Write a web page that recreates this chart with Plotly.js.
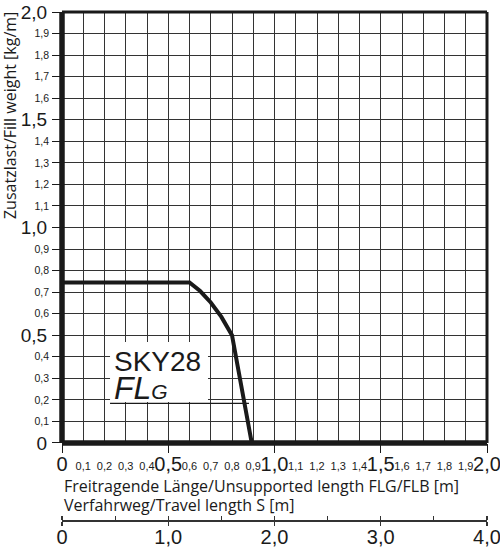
<!DOCTYPE html>
<html>
<head>
<meta charset="utf-8">
<script src="https://cdn.plot.ly/plotly-3.0.1.min.js"></script>
<style>html,body{margin:0;padding:0;background:#fff;}#chart{width:500px;height:551px;}</style>
</head>
<body>
<div id="chart"></div>
<script>
// Data: fill weight [kg/m] vs unsupported length [m]
const lengthM = [0, 0.6, 0.65, 0.7, 0.75, 0.8, 0.893];
const fillWeight = [0.745, 0.745, 0.705, 0.652, 0.585, 0.5, 0];

const majorVals = [0, 0.5, 1.0, 1.5, 2.0];
const majorText = ["0", "0,5", "1,0", "1,5", "2,0"];
const minorVals = [0.1,0.2,0.3,0.4,0.6,0.7,0.8,0.9,1.1,1.2,1.3,1.4,1.6,1.7,1.8,1.9];
const minorText = ["0,1","0,2","0,3","0,4","0,6","0,7","0,8","0,9","1,1","1,2","1,3","1,4","1,6","1,7","1,8","1,9"];
const travelVals = [0, 1, 2, 3, 4];
const travelText = ["0", "1,0", "2,0", "3,0", "4,0"];

const narrow = "Liberation Sans Narrow, Arial Narrow, sans-serif";
const txt = "Open Sans, sans-serif";
const ink = "#1a1a1a";
const gridC = "#333333";

const dom0 = 0.1516;

const trace = {
  x: lengthM, y: fillWeight, type: "scatter", mode: "lines",
  line: {color: ink, width: 4}, hoverinfo: "skip", showlegend: false, cliponaxis: false
};

const layout = {
  width: 500, height: 551,
  margin: {l: 62, r: 13, t: 12, b: 31},
  paper_bgcolor: "#ffffff", plot_bgcolor: "#ffffff",
  showlegend: false,
  xaxis: {
    range: [0, 2], domain: [0, 1], anchor: "y",
    tickvals: majorVals, ticktext: majorText,
    tickfont: {family: narrow, size: 20, color: ink},
    ticks: "outside", ticklen: 9, tickcolor: ink, tickwidth: 1,
    ticklabelstandoff: -6, ticklabeloverflow: "allow",
    showline: false,
    showgrid: true, gridcolor: gridC, gridwidth: 1,
    minor: {dtick: 0.1, showgrid: true, gridcolor: gridC, gridwidth: 1, ticks: ""},
    zeroline: false, fixedrange: true
  },
  xaxis2: {
    range: [0, 2], overlaying: "x", anchor: "y", side: "bottom",
    tickvals: minorVals, ticktext: minorText,
    tickfont: {family: narrow, size: 11, color: ink},
    ticks: "", ticklabelstandoff: 15, ticklabeloverflow: "allow",
    showline: false, showgrid: false, zeroline: false, fixedrange: true
  },
  xaxis3: {
    range: [0, 4], overlaying: "x", anchor: "free", position: 0, side: "bottom",
    tickvals: travelVals, ticktext: travelText,
    tickfont: {family: narrow, size: 20, color: ink},
    ticks: "outside", ticklen: 4, tickcolor: "#333", tickwidth: 1.2,
    ticklabelstandoff: -6, ticklabeloverflow: "allow",
    minor: {dtick: 0.5, ticks: "inside", ticklen: 4, tickcolor: "#333", tickwidth: 1.2, showgrid: false},
    showline: true, linecolor: "#333", linewidth: 1.5,
    showgrid: false, zeroline: false, fixedrange: true
  },
  xaxis4: {
    range: [0, 4], overlaying: "x", anchor: "free", position: 0, side: "bottom",
    tickvals: travelVals, showticklabels: false,
    ticks: "inside", ticklen: 4, tickcolor: "#333", tickwidth: 1.2,
    showline: false, showgrid: false, zeroline: false, fixedrange: true
  },
  yaxis: {
    range: [0, 2], domain: [dom0, 1], anchor: "x",
    tickvals: majorVals, ticktext: majorText,
    tickfont: {family: narrow, size: 19, color: ink},
    ticks: "outside", ticklen: 9, tickcolor: ink, tickwidth: 1,
    ticklabelstandoff: 1, ticklabeloverflow: "allow",
    showline: false,
    showgrid: true, gridcolor: gridC, gridwidth: 1,
    minor: {dtick: 0.1, showgrid: true, gridcolor: gridC, gridwidth: 1, ticks: "outside", ticklen: 9, tickcolor: ink},
    zeroline: false, fixedrange: true
  },
  yaxis2: {
    range: [0, 2], overlaying: "y", anchor: "x", side: "left",
    tickvals: minorVals, ticktext: minorText,
    tickfont: {family: narrow, size: 10.5, color: ink},
    ticks: "", ticklabelstandoff: 12, ticklabeloverflow: "allow",
    showline: false, showgrid: false, zeroline: false, fixedrange: true
  },
  shapes: [
    {type: "rect", xref: "x", yref: "y", x0: 0.226, x1: 0.687, y0: 0.19, y1: 0.469, fillcolor: "#ffffff", line: {width: 0}, layer: "between"},
    {type: "line", xref: "x", yref: "y", x0: 0.226, x1: 0.88, y0: 0.184, y1: 0.184, line: {color: ink, width: 1.2}, layer: "between"},
    {type: "line", xref: "x domain", yref: "y domain", x0: 0, x1: 1, y0: 1, y1: 1, line: {color: ink, width: 3}, layer: "above"},
    {type: "line", xref: "x domain", yref: "y domain", x0: 1, x1: 1, y0: 0, y1: 1, line: {color: ink, width: 3}, layer: "above"},
    {type: "line", xref: "x domain", yref: "y domain", x0: 0, x1: 0, y0: 0, y1: 1, line: {color: ink, width: 5.5}, layer: "above"},
    {type: "line", xref: "x domain", yref: "y domain", x0: 0, x1: 1, y0: 0, y1: 0, line: {color: ink, width: 5.5}, layer: "above"}
  ],
  annotations: [
    {text: "SKY28", xref: "x", yref: "y", x: 0.235, y: 0.38, xanchor: "left", yanchor: "middle",
     showarrow: false, font: {family: "Liberation Sans, Arial, sans-serif", size: 28, color: ink}},
    {text: "<i>FL<span style='font-size:21px'>G</span></i>", xref: "x", yref: "y", x: 0.235, y: 0.255, xanchor: "left", yanchor: "middle",
     showarrow: false, font: {family: "Liberation Sans, Arial, sans-serif", size: 32, color: ink}},
    {text: "Freitragende Länge/Unsupported length FLG/FLB [m]", xref: "paper", yref: "paper",
     x: 0, y: 0.0669, xanchor: "left", yanchor: "middle", showarrow: false,
     font: {family: txt, size: 16, color: ink}},
    {text: "Verfahrweg/Travel length S [m]", xref: "paper", yref: "paper",
     x: 0, y: 0.0305, xanchor: "left", yanchor: "middle", showarrow: false,
     font: {family: txt, size: 16, color: ink}},
    {text: "Zusatzlast/Fill weight [kg/m]", xref: "paper", yref: "paper",
     x: -0.121, y: 1.004, xanchor: "center", yanchor: "top", textangle: -90, showarrow: false,
     font: {family: txt, size: 16, color: ink}}
  ]
};

const data = [trace,
  {x: [0, 2], y: [null, null], xaxis: "x2", yaxis: "y2", mode: "lines", hoverinfo: "skip", showlegend: false},
  {x: [0, 4], y: [null, null], xaxis: "x3", yaxis: "y", mode: "lines", hoverinfo: "skip", showlegend: false},
  {x: [0, 4], y: [null, null], xaxis: "x4", yaxis: "y", mode: "lines", hoverinfo: "skip", showlegend: false}
];

Plotly.newPlot("chart", data, layout, {staticPlot: true, displayModeBar: false});
</script>
</body>
</html>
